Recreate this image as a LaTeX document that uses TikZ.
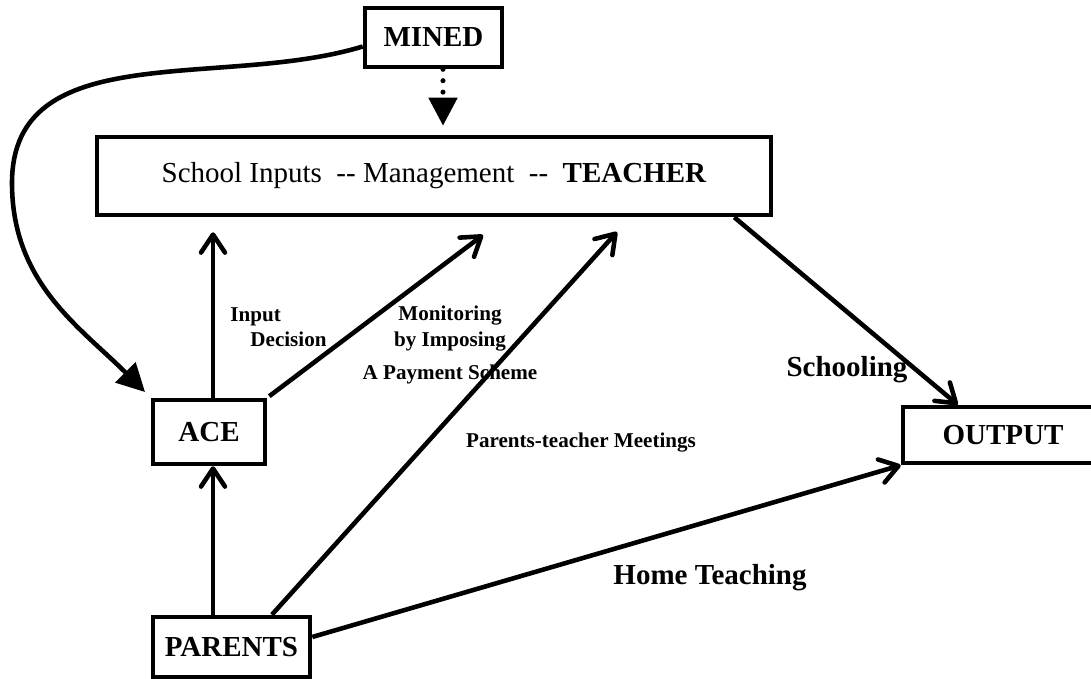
\documentclass[tikz,border=0pt]{standalone}
\usepackage{fontspec}
\setmainfont{Liberation Serif}
\usetikzlibrary{arrows.meta,calc,positioning}
\tikzset{
  every node/.style={font=\fontsize{16.5}{19}\selectfont\bfseries},
  box/.style={draw,inner sep=0pt},
  flow/.style={-{Straight Barb[round,length=.36cm,width=.48cm]}},
  bigflow/.style={-{Triangle[length=.56cm,width=.56cm]}},
  dots/.style={dash pattern=on 0pt off 6.5pt,line cap=round},
  smallnote/.style={font=\fontsize{12}{14.4}\selectfont\bfseries,inner sep=0pt}}

\begin{document}
\begin{tikzpicture}[line width=2.6pt]
\useasboundingbox (0,0) rectangle (21.82,13.58);
\node[box,minimum width=2.74cm,minimum height=1.18cm] (mined) at (8.67,12.83) {MINED};
\node[box,minimum width=13.48cm,minimum height=1.56cm,font=\fontsize{16.5}{19}\selectfont] (main) at (8.68,10.06)
  {School Inputs\ \ -{}- Management\ \ -{}-\ \ \textbf{TEACHER}};
\node[box,minimum width=2.24cm,minimum height=1.28cm] (ace) at (4.18,4.94) {ACE};
\node[box,minimum width=3.14cm,minimum height=1.2cm] (parents) at (4.63,0.64) {PARENTS};
\node[box,minimum width=4cm,minimum height=1.12cm] (output) at (20.06,4.88) {OUTPUT};
\coordinate (bend) at (0.24,9.92);
\coordinate (tipmon) at (9.66,8.88);
\coordinate (tipmeet) at (12.34,8.94);
\draw[bigflow,dots,line width=2.9pt,shorten >=.18cm] ([xshift=.19cm]mined.south) -- ([xshift=.19cm]mined.south |- main.north);
\draw[bigflow,shorten >=.16cm] ([yshift=-.18cm]mined.west) to[out=197,in=90] (bend) to[out=-90,in=135] (ace.north west);
\draw[flow,shorten >=.3cm] ([xshift=.08cm]ace.north) -- ([xshift=.08cm]ace.north |- main.south);
\draw[flow,shorten <=.05cm] (ace.north east) -- (tipmon);
\draw[flow] ($(parents.north)!.5!(parents.north east)$) -- (tipmeet);
\draw[flow] ([xshift=.08cm]ace.south |- parents.north) -- ([xshift=.08cm]ace.south);
\draw[flow] ([yshift=.2cm]parents.east) -- (output.south west);
\draw[flow] ($(main.south east)+(-.78,0)$) -- ($(output.north west)+(1.14,0)$);
\node[smallnote,align=left] (inputlbl) at (5.57,7.03) {Input\\\hspace*{.4cm}Decision};
\node[smallnote,align=center] (monlbl) at (9.0,6.68) {Monitoring\\ by Imposing\\[4.5pt]A Payment Scheme};
\node[smallnote] (meetlbl) at (11.62,4.72) {Parents-teacher Meetings};
\node[inner sep=0pt] (schoollbl) at (16.94,6.18) {Schooling};
\node[inner sep=0pt] (homelbl) at (14.2,2.02) {Home Teaching};
\end{tikzpicture}
\end{document}
